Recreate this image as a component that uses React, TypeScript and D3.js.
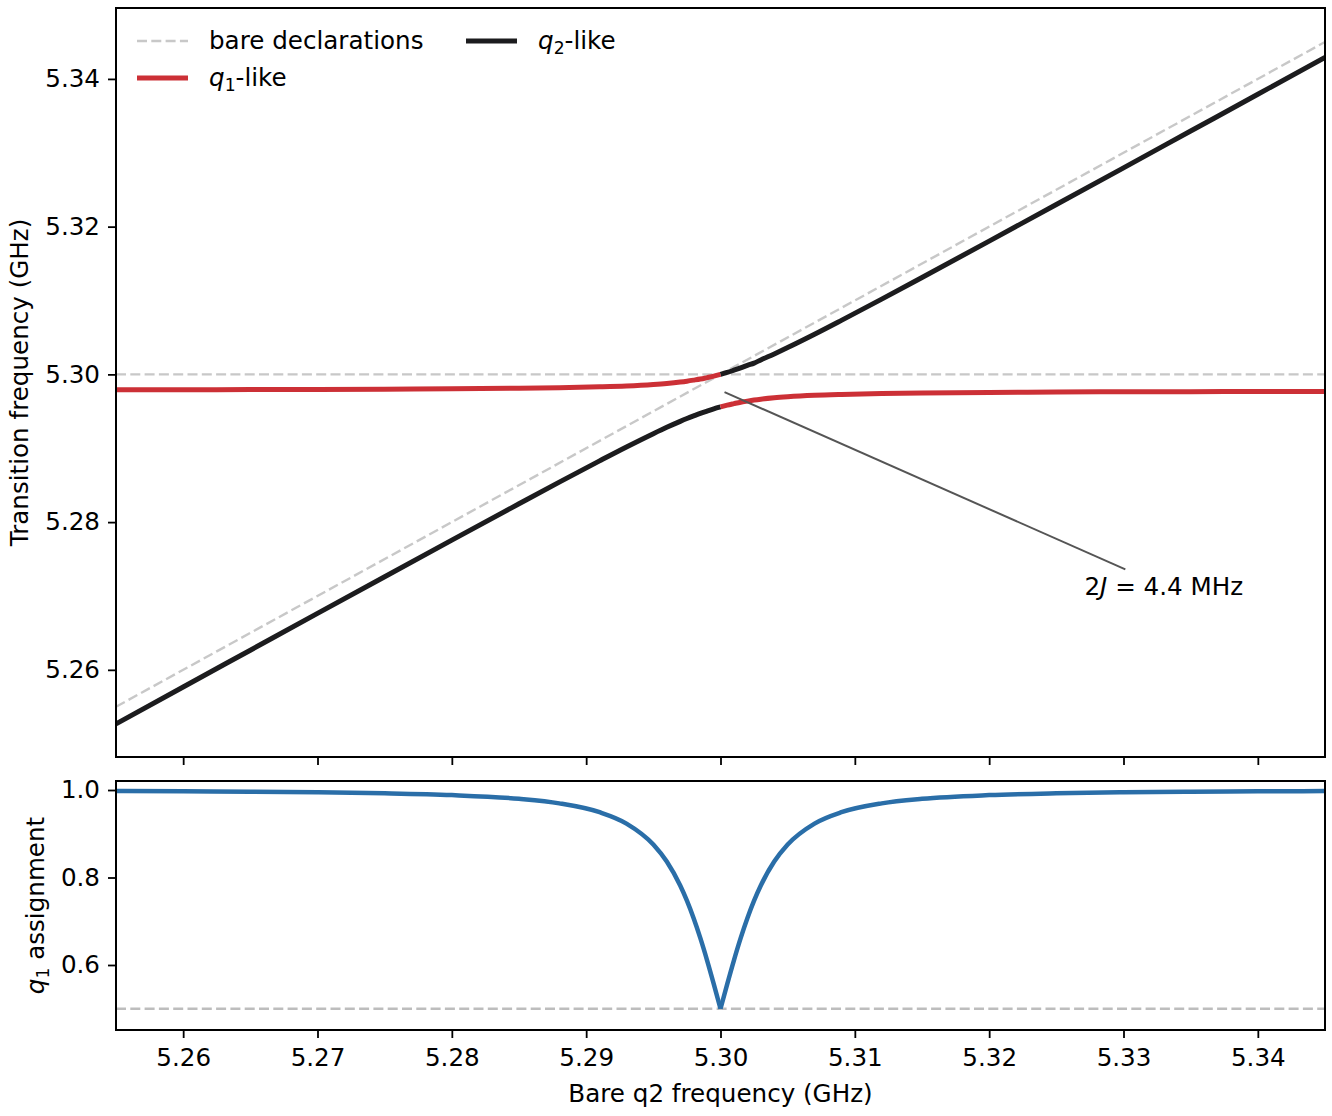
import React, { useEffect, useRef } from 'react';
import * as d3 from 'd3';

// Bare q2 frequency samples (GHz) left of the crossing
const xLeft = [5.255, 5.26, 5.265, 5.27, 5.275, 5.28, 5.285, 5.288, 5.291, 5.293, 5.295, 5.296, 5.297, 5.2975, 5.298, 5.2985, 5.299, 5.2995, 5.3];
// q1-like branch (upper) and q2-like branch (lower), left side
const q1Left = [5.29791, 5.29792, 5.29794, 5.29796, 5.29799, 5.29804, 5.29812, 5.29819, 5.29831, 5.29843, 5.29863, 5.29877, 5.29896, 5.29908, 5.29922, 5.29937, 5.29956, 5.29976, 5.3];
const q2Left = [5.25269, 5.25768, 5.26266, 5.26764, 5.27261, 5.27756, 5.28248, 5.28541, 5.28829, 5.29017, 5.29197, 5.29283, 5.29364, 5.29402, 5.29438, 5.29473, 5.29504, 5.29534, 5.2956];

// right of the crossing
const xRight = [5.3, 5.3005, 5.301, 5.3015, 5.302, 5.3025, 5.303, 5.304, 5.305, 5.307, 5.309, 5.312, 5.315, 5.32, 5.325, 5.33, 5.335, 5.34, 5.345];
const q1Right = [5.2956, 5.29584, 5.29604, 5.29623, 5.29638, 5.29652, 5.29664, 5.29683, 5.29697, 5.29717, 5.29729, 5.29741, 5.29748, 5.29756, 5.29761, 5.29764, 5.29766, 5.29768, 5.29769];
const q2Right = [5.3, 5.30026, 5.30056, 5.30087, 5.30122, 5.30153, 5.30196, 5.30277, 5.30363, 5.30543, 5.30731, 5.31019, 5.31312, 5.31804, 5.32299, 5.32796, 5.33294, 5.33792, 5.34291];

// q1 weight of the q1-like eigenstate
const assignLeft = [0.99763, 0.997, 0.9961, 0.99471, 0.99243, 0.98832, 0.97979, 0.96944, 0.94919, 0.92332, 0.87535, 0.83634, 0.78167, 0.74701, 0.7069, 0.66134, 0.61081, 0.55646, 0.5];
const assignRight = [0.5, 0.55646, 0.61081, 0.66134, 0.7069, 0.74701, 0.78167, 0.83634, 0.87535, 0.92332, 0.94919, 0.96944, 0.97979, 0.98832, 0.99243, 0.99471, 0.9961, 0.997, 0.99763];

const q1Bare = 5.3;
const xDomain: [number, number] = [5.255, 5.345];
const xTicks = [5.26, 5.27, 5.28, 5.29, 5.3, 5.31, 5.32, 5.33, 5.34];
const yTopTicks = [5.26, 5.28, 5.3, 5.32, 5.34];
const yBotTicks = [0.6, 0.8, 1.0];
const annotXY: [number, number] = [5.3003, 5.2976];
const annotText: [number, number] = [5.333, 5.2713];

const FONT = 'DejaVu Sans, sans-serif';
const FS = 24.6;
const RED = '#cc3036';
const BLACK = '#1c1c1e';
const BLUE = '#2a6ea8';

function App() {
  const svgRef = useRef<SVGSVGElement>(null);
  const width = 1332;
  const height = 1116;

  useEffect(() => {
    if (!svgRef.current) return;
    const svg = d3.select(svgRef.current);
    svg.selectAll('*').remove();

    const left = 116, right = 1325;
    const top1 = 8, bot1 = 757;
    const top2 = 781, bot2 = 1030;

    const x = d3.scaleLinear().domain(xDomain).range([left, right]);
    const yTop = d3.scaleLinear().domain([5.2482, 5.3496]).range([bot1, top1]);
    const yBot = d3.scaleLinear().domain([0.4514, 1.0206]).range([bot2, top2]);

    const defs = svg.append('defs');
    defs.append('clipPath').attr('id', 'clipTop')
      .append('rect').attr('x', left).attr('y', top1).attr('width', right - left).attr('height', bot1 - top1);
    defs.append('clipPath').attr('id', 'clipBot')
      .append('rect').attr('x', left).attr('y', top2).attr('width', right - left).attr('height', bot2 - top2);

    // ---- top panel ----
    const gTop = svg.append('g').attr('clip-path', 'url(#clipTop)');
    const dashTop = '10,4.3';
    gTop.append('line')
      .attr('x1', x(xDomain[0])).attr('x2', x(xDomain[1]))
      .attr('y1', yTop(q1Bare)).attr('y2', yTop(q1Bare))
      .attr('stroke', '#c8c8c8').attr('stroke-width', 2.4).attr('stroke-dasharray', dashTop);
    gTop.append('line')
      .attr('x1', x(xDomain[0])).attr('x2', x(xDomain[1]))
      .attr('y1', yTop(xDomain[0])).attr('y2', yTop(xDomain[1]))
      .attr('stroke', '#c8c8c8').attr('stroke-width', 2.4).attr('stroke-dasharray', dashTop);

    const lineTop = d3.line<[number, number]>()
      .x(d => x(d[0])).y(d => yTop(d[1]))
      .curve(d3.curveMonotoneX);

    const series: [number[], number[], string][] = [
      [xLeft, q2Left, BLACK],
      [xRight, q2Right, BLACK],
      [xLeft, q1Left, RED],
      [xRight, q1Right, RED],
    ];
    series.forEach(([xs, ys, color]) => {
      gTop.append('path')
        .datum(xs.map((v, i) => [v, ys[i]] as [number, number]))
        .attr('d', lineTop)
        .attr('fill', 'none')
        .attr('stroke', color)
        .attr('stroke-width', 5);
    });

    // annotation
    const [tx, ty] = [x(annotText[0]), yTop(annotText[1])];
    const [ax, ay] = [x(annotXY[0]), yTop(annotXY[1])];
    const t = 17 / Math.abs(ty - ay);
    gTop.append('line')
      .attr('x1', tx + (ax - tx) * t).attr('y1', ty + (ay - ty) * t)
      .attr('x2', ax).attr('y2', ay)
      .attr('stroke', '#555').attr('stroke-width', 2);
    const at = svg.append('text')
      .attr('x', tx).attr('y', ty)
      .attr('text-anchor', 'middle').attr('dominant-baseline', 'central')
      .style('font-family', FONT).style('font-size', `${FS}px`).style('fill', '#000');
    at.append('tspan').text('2');
    at.append('tspan').style('font-style', 'italic').text('J');
    at.append('tspan').text(' = 4.4 MHz');

    // frame + axes top
    svg.append('rect').attr('x', left).attr('y', top1).attr('width', right - left).attr('height', bot1 - top1)
      .attr('fill', 'none').attr('stroke', '#000').attr('stroke-width', 2);

    const yAxisTop = svg.append('g').attr('transform', `translate(${left},0)`)
      .call(d3.axisLeft(yTop).tickValues(yTopTicks).tickFormat(d3.format('.2f')).tickSize(8).tickPadding(8));
    const xAxisTop = svg.append('g').attr('transform', `translate(0,${bot1})`)
      .call(d3.axisBottom(x).tickValues(xTicks).tickFormat(() => '').tickSize(8));

    // ---- bottom panel ----
    const gBot = svg.append('g').attr('clip-path', 'url(#clipBot)');
    gBot.append('line')
      .attr('x1', x(xDomain[0])).attr('x2', x(xDomain[1]))
      .attr('y1', yBot(0.5)).attr('y2', yBot(0.5))
      .attr('stroke', '#bdbdbd').attr('stroke-width', 2.4).attr('stroke-dasharray', dashTop);
    const lineBot = d3.line<[number, number]>()
      .x(d => x(d[0])).y(d => yBot(d[1]))
      .curve(d3.curveMonotoneX);
    [[xLeft, assignLeft], [xRight, assignRight]].forEach(([xs, ys]) => {
      gBot.append('path')
        .datum(xs.map((v, i) => [v, ys[i]] as [number, number]))
        .attr('d', lineBot)
        .attr('fill', 'none')
        .attr('stroke', BLUE)
        .attr('stroke-width', 4.5)
        .attr('stroke-linejoin', 'round');
    });

    svg.append('rect').attr('x', left).attr('y', top2).attr('width', right - left).attr('height', bot2 - top2)
      .attr('fill', 'none').attr('stroke', '#000').attr('stroke-width', 2);

    const yAxisBot = svg.append('g').attr('transform', `translate(${left},0)`)
      .call(d3.axisLeft(yBot).tickValues(yBotTicks).tickFormat(d3.format('.1f')).tickSize(8).tickPadding(8));
    const xAxisBot = svg.append('g').attr('transform', `translate(0,${bot2})`)
      .call(d3.axisBottom(x).tickValues(xTicks).tickFormat(d3.format('.2f')).tickSize(8).tickPadding(11));

    [yAxisTop, xAxisTop, yAxisBot, xAxisBot].forEach(ax => {
      ax.select('.domain').remove();
      ax.selectAll('line').attr('stroke', '#000').attr('stroke-width', 1.8);
      ax.selectAll('text').style('font-family', FONT).style('font-size', `${FS}px`).attr('fill', '#000');
    });

    // axis labels
    svg.append('text')
      .attr('x', (left + right) / 2).attr('y', 1102)
      .attr('text-anchor', 'middle')
      .style('font-family', FONT).style('font-size', `${FS}px`)
      .text('Bare q2 frequency (GHz)');
    svg.append('text')
      .attr('transform', `translate(28,${(top1 + bot1) / 2}) rotate(-90)`)
      .attr('text-anchor', 'middle')
      .style('font-family', FONT).style('font-size', `${FS}px`)
      .text('Transition frequency (GHz)');
    const yl = svg.append('text')
      .attr('transform', `translate(44,${(top2 + bot2) / 2}) rotate(-90)`)
      .attr('text-anchor', 'middle')
      .style('font-family', FONT).style('font-size', `${FS}px`);
    yl.append('tspan').style('font-style', 'italic').text('q');
    yl.append('tspan').attr('dy', 5).style('font-size', `${FS * 0.7}px`).text('1');
    yl.append('tspan').attr('dy', -5).text(' assignment');

    // legend
    const legend = svg.append('g');
    const items = [
      { label: 'bare declarations', color: '#c8c8c8', dash: dashTop, w: 2.4, hx: 137, ly: 41, sub: '' },
      { label: '-like', color: RED, dash: null, w: 5, hx: 137, ly: 78, sub: '1' },
      { label: '-like', color: BLACK, dash: null, w: 5, hx: 466, ly: 41, sub: '2' },
    ];
    items.forEach(it => {
      legend.append('line')
        .attr('x1', it.hx).attr('x2', it.hx + 51).attr('y1', it.ly).attr('y2', it.ly)
        .attr('stroke', it.color).attr('stroke-width', it.w)
        .attr('stroke-dasharray', it.dash);
      const txt = legend.append('text')
        .attr('x', it.hx + 72).attr('y', it.ly + 8)
        .style('font-family', FONT).style('font-size', `${FS}px`);
      if (it.sub) {
        txt.append('tspan').style('font-style', 'italic').text('q');
        txt.append('tspan').attr('dy', 5).style('font-size', `${FS * 0.7}px`).text(it.sub);
        txt.append('tspan').attr('dy', -5).text(it.label);
      } else {
        txt.text(it.label);
      }
    });
  }, []);

  return (
    <div style={{ position: 'absolute', left: 0, top: 0 }}>
      <svg ref={svgRef} width={width} height={height} style={{ display: 'block', background: '#fff' }}></svg>
    </div>
  );
}

export default App;
